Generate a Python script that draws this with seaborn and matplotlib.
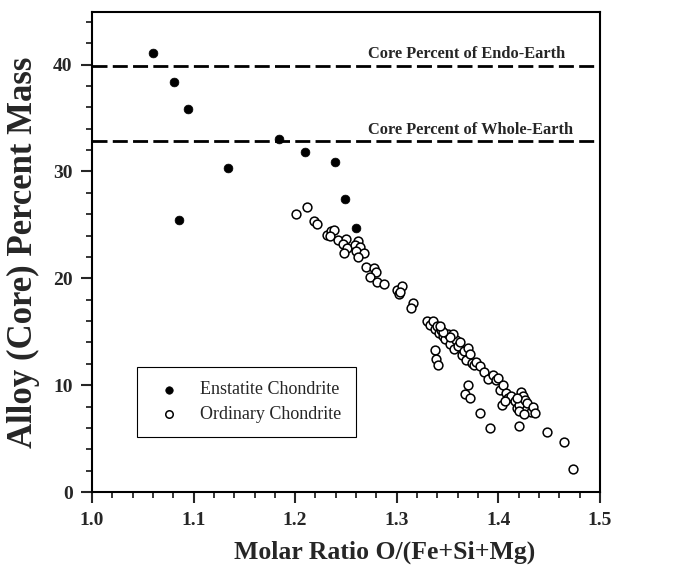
import matplotlib
matplotlib.use("Agg")
import matplotlib.pyplot as plt
import seaborn as sns
import pandas as pd
from matplotlib.ticker import MultipleLocator

sns.set_theme(style="white")
plt.rcParams['font.family'] = ['Liberation Serif', 'DejaVu Serif']

# Enstatite chondrites
ens_x = [1.060, 1.081, 1.095, 1.086, 1.134, 1.184, 1.210, 1.239, 1.249, 1.260]
ens_y = [41.1, 38.4, 35.8, 25.5, 30.3, 33.0, 31.8, 30.9, 27.4, 24.7]

# Ordinary chondrites
ord_x = [1.201, 1.212, 1.219, 1.222, 1.231, 1.235, 1.238, 1.234, 1.242, 1.250,
         1.247, 1.251, 1.248, 1.262, 1.259, 1.264, 1.260, 1.268, 1.262, 1.270,
         1.278, 1.280, 1.274, 1.281, 1.287,
         1.300, 1.305, 1.302, 1.303, 1.316, 1.314,
         1.330, 1.333, 1.336, 1.338, 1.340, 1.342, 1.344, 1.346, 1.348, 1.350,
         1.352, 1.354, 1.356, 1.358, 1.360, 1.362, 1.364, 1.366, 1.368, 1.370,
         1.372, 1.374, 1.376, 1.378, 1.382, 1.386, 1.390, 1.395, 1.398, 1.400,
         1.402, 1.405, 1.408, 1.410, 1.413, 1.416, 1.418, 1.420, 1.422, 1.424,
         1.426, 1.428, 1.432, 1.434, 1.436,
         1.338, 1.339, 1.341, 1.367, 1.370, 1.372, 1.382, 1.392, 1.420,
         1.448, 1.465, 1.474,
         1.355, 1.352, 1.346, 1.343, 1.404, 1.407, 1.418, 1.420, 1.425]
ord_y = [26.0, 26.7, 25.4, 25.1, 24.1, 24.4, 24.5, 24.0, 23.6, 23.7,
         23.2, 22.8, 22.4, 23.5, 23.1, 22.9, 22.6, 22.4, 22.0, 21.1,
         21.0, 20.6, 20.1, 19.7, 19.5,
         18.9, 19.3, 18.5, 18.7, 17.7, 17.2,
         16.0, 15.6, 16.0, 15.3, 15.5, 14.9, 15.2, 14.6, 14.3, 14.8,
         13.9, 14.6, 13.4, 14.2, 13.7, 14.0, 12.8, 13.2, 12.4, 13.5,
         12.9, 12.1, 11.9, 12.2, 11.8, 11.2, 10.6, 11.0, 10.5, 10.7,
         9.6, 10.0, 9.3, 8.8, 9.0, 8.5, 7.9, 8.2, 9.4, 9.0,
         8.6, 8.3, 7.5, 8.0, 7.4,
         13.3, 12.5, 11.9, 9.2, 10.0, 8.8, 7.4, 6.0, 6.2,
         5.6, 4.7, 2.2,
         14.8, 14.5, 15.0, 15.5, 8.2, 8.5, 8.8, 7.6, 7.3]

endo_core = 39.9
whole_core = 32.8
series_labels = ["Enstatite Chondrite", "Ordinary Chondrite"]

fig = plt.figure(figsize=(6.84, 5.77), dpi=100)
ax = fig.add_axes([0.1345, 0.147, 0.7425, 0.832])

ens = pd.DataFrame({"x": ens_x, "y": ens_y})
ordc = pd.DataFrame({"x": ord_x, "y": ord_y})

sns.scatterplot(data=ens, x="x", y="y", ax=ax, s=40, color="black",
                edgecolor="black", linewidth=0.5, label=series_labels[0], zorder=3)
sns.scatterplot(data=ordc, x="x", y="y", ax=ax, s=40, facecolor="white",
                edgecolor="black", linewidth=1.1, label=series_labels[1], zorder=3)

ax.axhline(endo_core, color="black", lw=2.0, dashes=(5.4, 1.9), zorder=2)
ax.axhline(whole_core, color="black", lw=2.0, dashes=(5.4, 1.9), zorder=2)

ax.text(1.272, endo_core + 0.35, "Core Percent of Endo-Earth", fontsize=11.8,
        fontweight="bold", ha="left", va="bottom")
ax.text(1.272, whole_core + 0.35, "Core Percent of Whole-Earth", fontsize=11.8,
        fontweight="bold", ha="left", va="bottom")

ax.set_xlim(1.0, 1.5)
ax.set_ylim(0, 44.9)
ax.xaxis.set_major_locator(MultipleLocator(0.1))
ax.xaxis.set_minor_locator(MultipleLocator(0.02))
ax.yaxis.set_major_locator(MultipleLocator(10))
ax.yaxis.set_minor_locator(MultipleLocator(2))
ax.xaxis.set_major_formatter(matplotlib.ticker.FormatStrFormatter('%.1f'))

ax.tick_params(axis="both", which="major", direction="out", length=8, width=1.5,
               labelsize=14, bottom=True, left=True, top=False, right=False, pad=6)
ax.tick_params(axis="both", which="minor", direction="out", length=4, width=1.3,
               bottom=True, left=True, top=False, right=False)
for lbl in ax.get_xticklabels() + ax.get_yticklabels():
    lbl.set_fontweight("bold")
for sp in ax.spines.values():
    sp.set_color("black")
    sp.set_linewidth(1.5)

ax.set_xlabel("Molar Ratio O/(Fe+Si+Mg)", fontsize=18.5, fontweight="bold", labelpad=10)
ax.xaxis.set_label_coords(0.577, -0.1)
ax.set_ylabel("Alloy (Core) Percent Mass", fontsize=25, fontweight="bold", labelpad=9)

leg = ax.legend(loc="lower left", bbox_to_anchor=(0.0886, 0.115), fontsize=13,
                frameon=True, fancybox=False, edgecolor="black", borderpad=0.8,
                handletextpad=0.7, labelspacing=0.4, markerscale=0.85, borderaxespad=0)
leg.get_frame().set_linewidth(0.8)
leg.get_frame().set_alpha(1)

fig.savefig("out.png", dpi=100)
